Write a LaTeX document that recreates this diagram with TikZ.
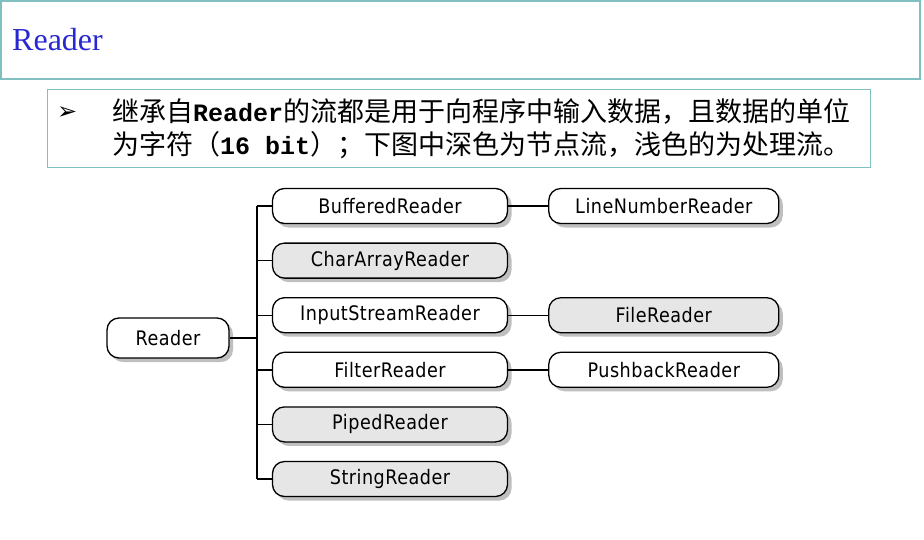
\documentclass[tikz,border=0pt]{standalone}
\usepackage{fontspec}
\usetikzlibrary{positioning,shadows}
\setmainfont{Liberation Serif}
\newfontfamily\cjkfont{Noto Sans CJK SC}
\newfontfamily\codefont{Liberation Mono}
\newfontfamily\boxfont[FakeStretch=0.88,LetterSpace=2.5]{DejaVu Sans}
\newfontfamily\symfont{DejaVu Sans}
\definecolor{frameteal}{RGB}{128,192,192}
\definecolor{titleblue}{RGB}{40,40,210}
\definecolor{nodegray}{RGB}{230,230,230}
\begin{document}
\begin{tikzpicture}[x=1pt, y=-1pt,
    stream/.style={draw=black, line width=1.3pt, rounded corners=12pt,
      minimum width=235pt, minimum height=35pt, inner sep=0pt, fill=white,
      font=\boxfont\fontsize{20}{20}\selectfont,
      drop shadow={shadow xshift=4pt, shadow yshift=-4pt, fill=black!25, opacity=1}},
    nodestream/.style={stream, fill=nodegray},
    link/.style={line width=1.4pt},
    txt/.style={anchor=base west, inner sep=0pt}]
  \useasboundingbox (0,0) rectangle (924,539);

  % title bar
  \draw[frameteal, line width=1.2pt] (1,1) rectangle (920,79);
  \node[txt, text=titleblue, font=\fontsize{32}{32}\selectfont] (title) at (12,50) {Reader};

  % bullet box
  \draw[frameteal, line width=1pt] (47,89) rectangle (870,167);
  \node[txt, font=\symfont\bfseries\fontsize{24}{24}\selectfont] (bullet) at (57,119) {➢};
  \node[txt, font=\cjkfont\fontsize{27}{33}\selectfont] (line1) at (112,121)
    {继承自{\codefont\bfseries\fontsize{25}{33}\selectfont Reader}的流都是用于向程序中输入数据，且数据的单位};
  \node[txt, font=\cjkfont\fontsize{27}{33}\selectfont] (line2) at (112,154)
    {为字符（{\codefont\bfseries\fontsize{25}{33}\selectfont 16 bit}）；下图中深色为节点流，浅色的为处理流。};

  % tree
  \node[stream, minimum width=122pt, minimum height=40pt] (reader) at (168,338) {Reader};
  \coordinate (trunk) at (257,338);

  \node[stream] (buffered) at (390,206) {BufferedReader};
  \node[nodestream, below=18.3pt of buffered] (chararray) {CharArrayReader};
  \node[stream, below=18.3pt of chararray] (inputstream) {InputStreamReader};
  \node[stream, below=18.3pt of inputstream] (filter) {FilterReader};
  \node[nodestream, below=18.3pt of filter] (piped) {PipedReader};
  \node[nodestream, below=18.3pt of piped] (stringr) {StringReader};

  \node[stream, minimum width=230pt, right=40pt of buffered] (linenumber) {LineNumberReader};
  \node[nodestream, minimum width=230pt, right=40pt of inputstream] (file) {FileReader};
  \node[stream, minimum width=230pt, right=40pt of filter] (pushback) {PushbackReader};

  \draw[link] (reader.east) -- (trunk);
  \draw[link] (trunk |- buffered.west) -- (trunk |- stringr.west);
  \foreach \n in {buffered, chararray, inputstream, filter, piped, stringr}
    \draw[link] (trunk |- \n.west) -- (\n.west);
  \draw[link] (buffered.east) -- (linenumber.west);
  \draw[link] (inputstream.east) -- (file.west);
  \draw[link] (filter.east) -- (pushback.west);
\end{tikzpicture}
\end{document}
